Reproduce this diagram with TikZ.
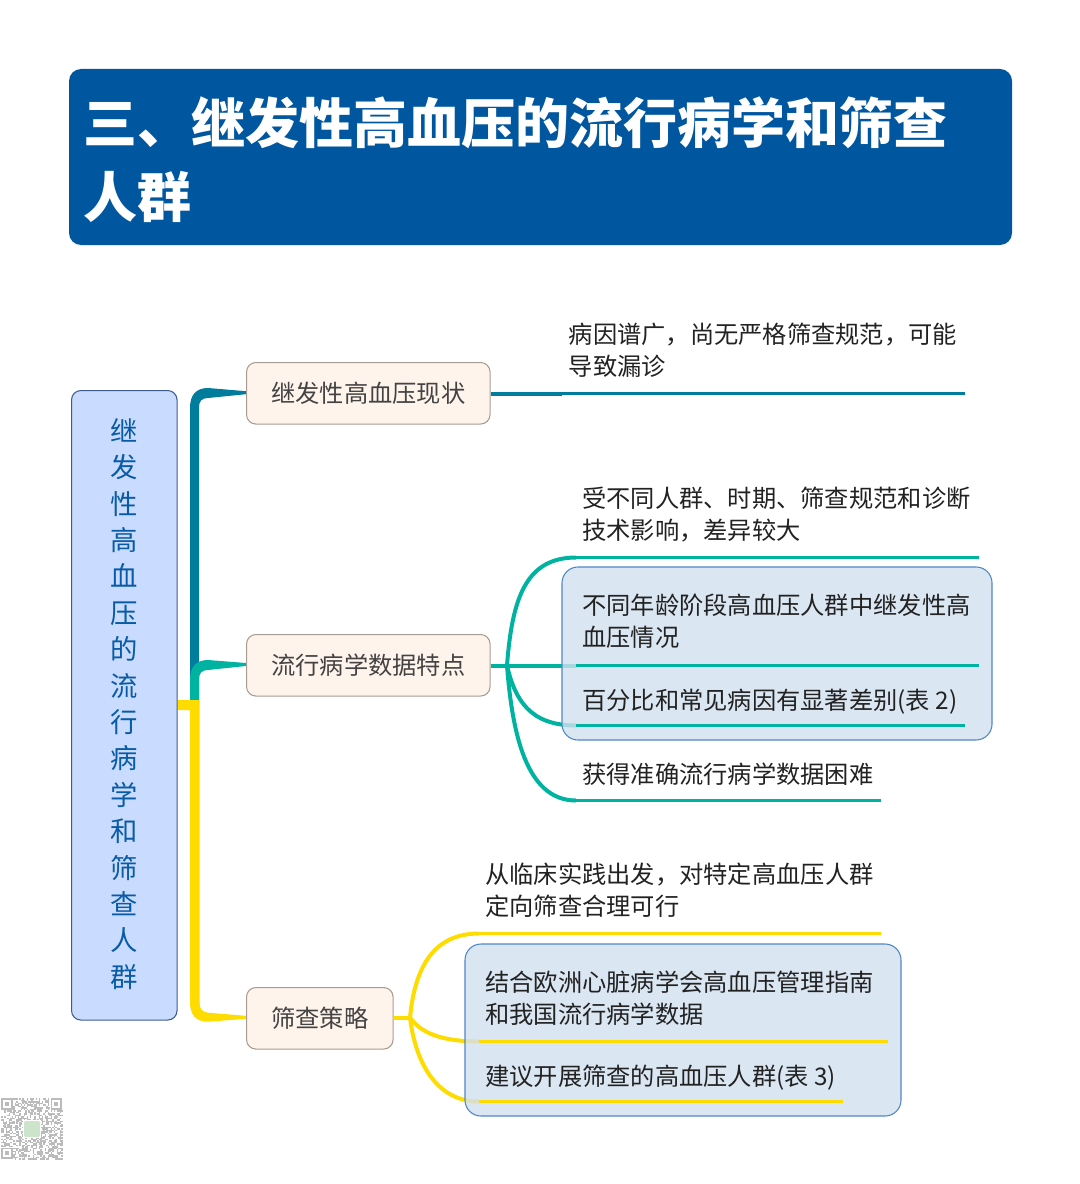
\documentclass[tikz,border=0pt]{standalone}
\usepackage{fontspec}
\setmainfont{Noto Sans CJK SC}
\definecolor{titleblue}{HTML}{00579F}
\definecolor{rootfill}{HTML}{C9DCFF}
\definecolor{rootline}{HTML}{3F5C92}
\definecolor{roottext}{HTML}{0A5BA5}
\definecolor{catfill}{HTML}{FFF4EC}
\definecolor{catline}{HTML}{A89C92}
\definecolor{teal1}{HTML}{007C9C}
\definecolor{green1}{HTML}{00B3A1}
\definecolor{yellow1}{HTML}{FFDC00}
\definecolor{groupfill}{HTML}{D2E0F0}
\definecolor{groupline}{HTML}{4F86C6}
\definecolor{bodytext}{HTML}{222222}
\definecolor{qrgray}{HTML}{BBBBBB}
\tikzset{
  titlebox/.style={fill=titleblue,rounded corners=9pt,inner sep=0pt},
  rootbox/.style={draw=rootline,line width=0.8pt,fill=rootfill,rounded corners=7pt},
  catbox/.style={draw=catline,line width=0.8pt,fill=catfill,rounded corners=7pt},
  leaftext/.style={anchor=west,inner sep=0pt,align=left,text=bodytext,font=\fontsize{18.2pt}{24pt}\selectfont},
  cattext/.style={anchor=center,inner sep=0pt,text=bodytext!85,font=\fontsize{18.2pt}{24pt}\selectfont},
  limb/.style={line width=3pt,line cap=butt},
  leafline/.style={line width=2.2pt,line cap=butt},
}
\begin{document}
\begin{tikzpicture}[x=0.75pt,y=-0.75pt]
\useasboundingbox (0,0) rectangle (1080,1184);
% title
\fill[titlebox] (69,69) rectangle (1012,245);
\node[anchor=west,inner sep=0pt,align=left,text=white,font=\fontsize{40.5pt}{55.5pt}\selectfont\bfseries] (title) at (83,160)
  {三、继发性高血压的流行病学和筛查\\人群};
% trunk pieces
\fill[teal1] (190,700) -- (190,408) .. controls (190,395) and (196,388) .. (208,388)
  -- (246,391.2) -- (246,394.2) -- (208,398) .. controls (202,398) and (199,401) .. (199,407) -- (199,700) -- cycle;
\fill[green1] (190,700) -- (190,680) .. controls (190,667) and (196,660) .. (208,660)
  -- (246,663) -- (246,666) -- (208,670) .. controls (202,670) and (199,673) .. (199,679) -- (199,700) -- cycle;
\fill[yellow1] (177.5,700) -- (199.5,700) -- (199.5,1002) .. controls (199.5,1009) and (202,1012) .. (208,1012.7)
  -- (246,1015.8) -- (246,1018.8) -- (208,1021.7) .. controls (196,1021.7) and (190,1015) .. (190,1002) -- (190,710) -- (177.5,710) -- cycle;
% root
\node[rootbox,minimum width=105.5*0.75pt,minimum height=629.5*0.75pt,inner sep=0pt,anchor=north west] (root) at (71,390) {};
\node[inner sep=0pt,align=center,text=roottext,font=\fontsize{20.5pt}{27.3pt}\selectfont] (roottxt) at (124,704)
  {继\\发\\性\\高\\血\\压\\的\\流\\行\\病\\学\\和\\筛\\查\\人\\群};
% category boxes
\node[catbox,minimum width=243.5*0.75pt,minimum height=61.5*0.75pt,inner sep=0pt,anchor=north west] (c1) at (246,362) {};
\node[cattext] at (c1.center) {继发性高血压现状};
\node[catbox,minimum width=243.5*0.75pt,minimum height=61.5*0.75pt,inner sep=0pt,anchor=north west] (c2) at (246,634) {};
\node[cattext] at (c2.center) {流行病学数据特点};
\node[catbox,minimum width=146.5*0.75pt,minimum height=61.5*0.75pt,inner sep=0pt,anchor=north west] (c3) at (246,987) {};
\node[cattext] at (c3.center) {筛查策略};
% named points
\coordinate (f2) at (507,665.5);
\coordinate (f3) at (410,1017.5);
\coordinate (a1) at (562,393.5);  \coordinate (a1e) at (965,393.5);
\coordinate (g1) at (576,557.5);  \coordinate (g1e) at (979,557.5);
\coordinate (g2) at (576,665.5);  \coordinate (g2e) at (979,665.5);
\coordinate (g3) at (576,725.5);\coordinate (g3e) at (965,725.5);
\coordinate (g4) at (576,800.5);  \coordinate (g4e) at (881,800.5);
\coordinate (y1) at (479,933.5);  \coordinate (y1e) at (881,933.5);
\coordinate (y2) at (479,1041.5); \coordinate (y2e) at (888,1041.5);
\coordinate (y3) at (479,1101.5);\coordinate (y3e) at (843,1101.5);
% limbs under the groups
\draw[limb,teal1] (c1.east |- a1) -- (a1);
\draw[leafline,teal1] (a1) -- (a1e);
\draw[limb,green1] (c2.east |- f2) -- (f2);
\draw[limb,green1] (f2) .. controls (512,600) and (525,557.5) .. (g1);
\draw[limb,green1] (f2) -- (g2);
\draw[limb,green1] (f2) .. controls (515,700) and (530,725.5) .. (g3);
\draw[limb,green1] (f2) .. controls (512,730) and (525,800.5) .. (g4);
\draw[limb,yellow1] (c3.east |- f3) -- (f3);
\draw[limb,yellow1] (f3) .. controls (415,965) and (435,933.5) .. (y1);
\draw[limb,yellow1] (f3) .. controls (420,1032) and (440,1041.5) .. (y2);
\draw[limb,yellow1] (f3) .. controls (415,1060) and (435,1101.5) .. (y3);
% groups
\fill[groupfill,fill opacity=0.8,rounded corners=12pt] (562,567) rectangle (992,740);
\draw[groupline,line width=0.8pt,rounded corners=12pt] (562,567) rectangle (992,740);
\fill[groupfill,fill opacity=0.8,rounded corners=12pt] (465,944) rectangle (901,1116);
\draw[groupline,line width=0.8pt,rounded corners=12pt] (465,944) rectangle (901,1116);
% leaf lines
\draw[leafline,green1] (g1) -- (g1e);
\draw[leafline,green1] (g2) -- (g2e);
\draw[leafline,green1] (g3) -- (g3e);
\draw[leafline,green1] (g4) -- (g4e);
\draw[leafline,yellow1] (y1) -- (y1e);
\draw[leafline,yellow1] (y2) -- (y2e);
\draw[leafline,yellow1] (y3) -- (y3e);
% leaf text
\node[leaftext] (t1) at (568.5,350) {病因谱广，尚无严格筛查规范，可能\\导致漏诊};
\node[leaftext] (t2) at (582,514.5) {受不同人群、时期、筛查规范和诊断\\技术影响，差异较大};
\node[leaftext] (t3) at (582,621.5) {不同年龄阶段高血压人群中继发性高\\血压情况};
\node[leaftext] (t4) at (582,702) {百分比和常见病因有显著差别(表 2)};
\node[leaftext] (t5) at (582,774) {获得准确流行病学数据困难};
\node[leaftext] (t6) at (485,890) {从临床实践出发，对特定高血压人群\\定向筛查合理可行};
\node[leaftext] (t7) at (485,998) {结合欧洲心脏病学会高血压管理指南\\和我国流行病学数据};
\node[leaftext] (t8) at (485,1078) {建议开展筛查的高血压人群(表 3)};
% QR mark
\begin{scope}[shift={(1,1098)}]
\pgfmathsetseed{4217}
\foreach \i in {0,...,40}{\foreach \j in {0,...,40}{
  \pgfmathparse{rnd<0.52?1:0}
  \ifnum\pgfmathresult=1
    \fill[qrgray] (\i*1.5,\j*1.5) rectangle ++(1.5,1.5);
  \fi
}}
\foreach \px/\py in {0/0,49.5/0,0/49.5}{
  \fill[white] (\px-0.5,\py-0.5) rectangle ++(12.5,12.5);
  \fill[qrgray] (\px,\py) rectangle ++(11.5,11.5);
  \fill[white] (\px+1.8,\py+1.8) rectangle ++(7.9,7.9);
  \fill[qrgray] (\px+3.6,\py+3.6) rectangle ++(4.3,4.3);
}
\fill[white] (22,22) rectangle ++(18,18);
\fill[green!45!black!20,rounded corners=1pt] (23,23) rectangle ++(16,16);
\end{scope}
\end{tikzpicture}
\end{document}
